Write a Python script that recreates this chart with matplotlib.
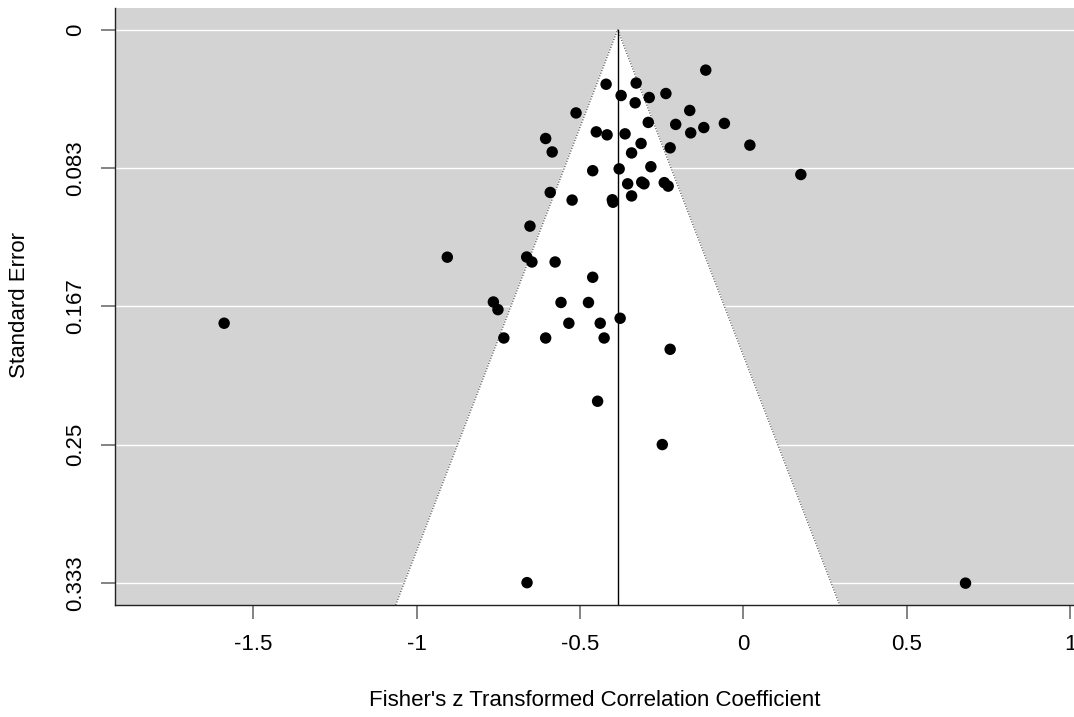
import numpy as np
import matplotlib
matplotlib.use('Agg')
import matplotlib.pyplot as plt

plt.rcParams['font.family'] = ['Liberation Sans', 'DejaVu Sans']

# effect sizes (Fisher's z) and their standard errors
z = [-0.115, -0.420, -0.328, -0.374, -0.331, -0.288, -0.237, -0.512, -0.164, -0.291,
     -0.207, -0.121, -0.058, -0.161, -0.450, -0.417, -0.362, -0.605, -0.313, -0.585,
     -0.342, -0.224, 0.020, -0.283, -0.461, -0.380, 0.176, -0.354, -0.311, -0.304,
     -0.242, -0.230, -0.591, -0.524, -0.401, -0.399, -0.342, -0.653, -0.906, -0.663,
     -0.647, -0.576, -0.461, -0.765, -0.751, -0.558, -0.474, -0.377, -0.534, -0.438,
     -0.733, -0.605, -0.426, -0.224, -1.589, -0.446, -0.248, -0.662, 0.680]
se = [0.0244, 0.0329, 0.0322, 0.0397, 0.0441, 0.0409, 0.0385, 0.0502, 0.0487, 0.0559,
      0.0571, 0.0590, 0.0565, 0.0622, 0.0616, 0.0634, 0.0628, 0.0656, 0.0686, 0.0737,
      0.0743, 0.0712, 0.0696, 0.0826, 0.0850, 0.0839, 0.0873, 0.0929, 0.0919, 0.0929,
      0.0922, 0.0943, 0.0981, 0.1027, 0.1025, 0.1040, 0.1002, 0.1184, 0.1371, 0.1370,
      0.1400, 0.1400, 0.1492, 0.1641, 0.1687, 0.1644, 0.1644, 0.1739, 0.1769, 0.1769,
      0.1858, 0.1858, 0.1858, 0.1926, 0.1769, 0.2239, 0.2500, 0.3332, 0.3335]
estimate = -0.3845

yticks = [0, 1/12, 1/6, 0.25, 1/3]
ytick_labels = ['0', '0.083', '0.167', '0.25', '0.333']
xticks = [-1.5, -1, -0.5, 0, 0.5, 1]
xtick_labels = ['-1.5', '-1', '-0.5', '0', '0.5', '1']

W, H = 1074, 717
fig = plt.figure(figsize=(W / 100, H / 100), dpi=100)
ax = fig.add_axes([115 / W, (H - 605) / H, (W - 115) / W, (605 - 7.5) / H])

se_max = yticks[-1]
pad = 0.04 * se_max
ylo, yhi = se_max + pad, -pad
ax.set_ylim(ylo, yhi)
ax.set_xlim(-1.923, 1.012)

ax.set_facecolor('lightgray')
for t in yticks:
    ax.axhline(t, color='white', lw=1.0, zorder=1)

# pseudo confidence region
half = 1.96 * ylo
ax.fill([estimate - half, estimate, estimate + half], [ylo, 0, ylo],
        color='white', zorder=2)
ax.plot([estimate - half, estimate, estimate + half], [ylo, 0, ylo],
        color='#333333', lw=0.8, ls=(0, (1, 1.5)), zorder=3)
ax.plot([estimate, estimate], [0, ylo], color='black', lw=1, zorder=3)

ax.scatter(z, se, s=68, color='black', edgecolors='none', zorder=4)

ax.set_yticks(yticks)
ax.set_yticklabels(ytick_labels, rotation=90, va='center')
ax.set_xticks(xticks)
ax.set_xticklabels(xtick_labels)
ax.tick_params(axis='both', length=10, width=1.2, color='#6e6e6e',
               labelsize=16, pad=11)

for s in ['top', 'right']:
    ax.spines[s].set_visible(False)
for s in ['left', 'bottom']:
    ax.spines[s].set_color('#222222')
    ax.spines[s].set_linewidth(1)

fig.text(594.5 / W, 1 - 700 / H, "Fisher's z Transformed Correlation Coefficient",
         ha='center', va='center', fontsize=16)
fig.text(20 / W, 1 - 305 / H, 'Standard Error', ha='center', va='center',
         rotation=90, fontsize=16)

fig.savefig('out.png', dpi=100)
